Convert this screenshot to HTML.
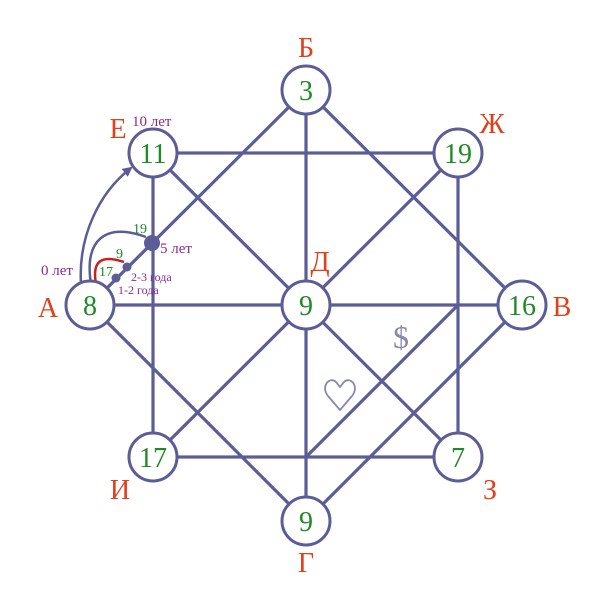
<!DOCTYPE html>
<html><head><style>body{margin:0;background:#fff}svg{display:block}</style></head><body>
<svg width="610" height="607" viewBox="0 0 610 607" xmlns="http://www.w3.org/2000/svg" font-family="Liberation Serif, serif">
<defs><marker id="ar" markerWidth="10" markerHeight="10" refX="8" refY="5" orient="auto" markerUnits="userSpaceOnUse"><path d="M0,0 L10,5 L0,10 z" fill="#5c5c96"/></marker></defs>
<g stroke="#5c5c96" stroke-width="3.2" fill="none">
<rect x="153" y="153" width="305" height="304"/>
<polygon points="90,305 306,90 522,305 306,521"/>
<line x1="90" y1="305" x2="522" y2="305"/>
<line x1="306" y1="90" x2="306" y2="521"/>
<line x1="153" y1="153" x2="458" y2="457"/>
<line x1="458" y1="153" x2="153" y2="457"/>
<line x1="306" y1="457" x2="458" y2="305"/>
<path d="M81,284 C78,235 100,192 131,168" marker-end="url(#ar)" stroke-width="2.5"/>
<path d="M91,284 C84,240 105,222 146,237" stroke-width="2.5"/>
<path d="M96,284 C92,262 100,254 124,262" stroke="#c8201c" stroke-width="2.5"/>
</g>
<g fill="#5c5c96"><circle cx="152" cy="243" r="8"/><circle cx="127" cy="267" r="4.5"/><circle cx="116" cy="278" r="4.5"/></g>
<g stroke="#5c5c96" stroke-width="3" fill="#fff">
<circle cx="90" cy="305" r="24"/><circle cx="306" cy="90" r="24"/><circle cx="522" cy="305" r="24"/><circle cx="306" cy="521" r="24"/>
<circle cx="153" cy="153" r="24"/><circle cx="458" cy="153" r="24"/><circle cx="153" cy="457" r="24"/><circle cx="458" cy="457" r="24"/><circle cx="306" cy="305" r="24"/>
</g>
<g fill="#1f8a26" font-size="28" text-anchor="middle">
<text x="90" y="315">8</text><text x="306" y="100">3</text><text x="522" y="315">16</text><text x="306" y="531">9</text>
<text x="153" y="163">11</text><text x="458" y="163">19</text><text x="153" y="467">17</text><text x="458" y="467">7</text><text x="306" y="315">9</text>
</g>
<g fill="#e0401c" font-size="28" text-anchor="middle">
<text x="306" y="57">Б</text><text x="492" y="133">Ж</text><text x="562" y="316">В</text><text x="490" y="499">З</text>
<text x="306" y="572">Г</text><text x="120" y="499">И</text><text x="48" y="317">А</text><text x="118" y="138">Е</text><text x="320" y="271">Д</text>
</g>
<g fill="#8b2a8e" font-size="15">
<text x="132" y="126">10 лет</text><text x="41" y="275">0 лет</text><text x="160" y="253">5 лет</text>
<text x="131" y="281" font-size="12">2-3 года</text><text x="118" y="294" font-size="12">1-2 года</text>
</g>
<g fill="#1f8a26" font-size="14"><text x="133" y="233">19</text><text x="116" y="258">9</text><text x="99" y="276">17</text></g>
<text x="401" y="348" font-size="32" fill="#8888b0" text-anchor="middle">$</text>
<path d="M340,410 L328,396 C320,386 330,376 336,382 L340,387 L344,382 C350,376 360,386 352,396 Z" fill="none" stroke="#8888b0" stroke-width="1.8"/>
</svg>
</body></html>
